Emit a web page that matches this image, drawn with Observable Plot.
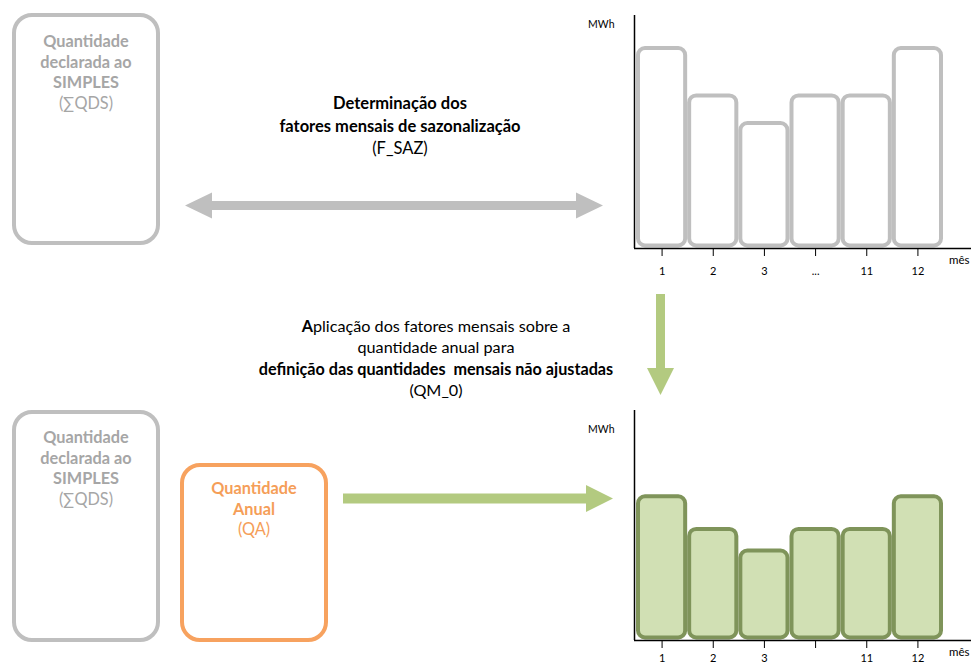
<!DOCTYPE html>
<html lang="pt">
<head>
<meta charset="utf-8">
<script src="https://cdn.jsdelivr.net/npm/d3@7"></script>
<script src="https://cdn.jsdelivr.net/npm/@observablehq/plot@0.6"></script>
<style>
  html, body { margin: 0; padding: 0; background: #fff; }
  body { width: 971px; height: 666px; position: relative; overflow: hidden; font-family: Lato, "Open Sans", sans-serif; }
  .box { position: absolute; box-sizing: border-box; border: 4px solid #bfbfbf; border-radius: 20px; text-align: center; font-size: 16.3px; line-height: 20.7px; color: #a6a6a6; }
  .box b { font-weight: 700; }
  .orange { border-color: #f7a25f; color: #f59e58; }
  .label { position: absolute; transform: translateX(-50%); white-space: pre; text-align: center; color: #000; font-size: 16.5px; }
  #chartTop { position: absolute; left: 580px; top: 0px; }
  #chartBottom { position: absolute; left: 580px; top: 395px; }
  #arrows { position: absolute; left: 0; top: 0; }
</style>
</head>
<body>
<script>
// ---- data ----
const mesesFSAZ = ["1", "2", "3", "...", "11", "12"];
const mesesQM0 = ["1", "2", "3", "", "11", "12"];
const fatoresSazonalizacao = [100, 76, 62, 76, 76, 100];   // relative MWh, top panel
const quantidadesMensais = [71.5, 55, 44, 55, 55, 71.5];    // MWh, QM_0 panel
const unidade = "MWh";
const eixoX = "mês";

const boxTitleSimples = ["Quantidade", "declarada ao", "SIMPLES"];
const boxSubSimples = "(∑QDS)";
const boxTitleAnual = ["Quantidade", "Anual"];
const boxSubAnual = "(QA)";
const passo1 = ["Determinação dos", "fatores mensais de sazonalização"];
const passo1Sub = "(F_SAZ)";
const passo2Regular = ["quantidade anual para"];
const passo2Bold = "definição das quantidades  mensais não ajustadas";
const passo2Sub = "(QM_0)";

// ---- chart factory ----
function monthChart(values, labels, {height, marginBottom, yBase, fill, stroke, unitDy, tickPadding}) {
  const rows = values.map((v, i) => ({i, v, mes: labels[i]}));
  return Plot.plot({
    width: 391,
    height,
    marginLeft: 54,
    marginRight: 0,
    marginTop: 15,
    marginBottom,
    style: {fontFamily: "Lato, 'Open Sans', sans-serif", fontSize: "11px", color: "#000", background: "transparent", overflow: "visible"},
    x: {
      domain: [0, labels.length],
      range: [56, 363],
      ticks: labels.map((d, i) => i + 0.5),
      tickFormat: (t) => labels[Math.floor(t)],
      tickSize: 8,
      tickPadding,
      label: null
    },
    y: {domain: [0, 100], range: [yBase, yBase - 197.5], axis: null},
    marks: [
      Plot.rect(rows, {
        x1: "i", x2: (d) => d.i + 1, y1: 0, y2: "v",
        insetLeft: 2, insetRight: 2, rx: 7,
        fill, stroke, strokeWidth: 4
      }),
      Plot.ruleY([0], {dy: 2.5, stroke: "#000", strokeWidth: 1.5}),
      Plot.ruleX([0], {dx: -2, stroke: "#000", strokeWidth: 1.5}),
      Plot.text([unidade], {frameAnchor: "top-left", dx: -20, dy: unitDy, textAnchor: "end", fontSize: 10.5}),
      Plot.text([eixoX], {frameAnchor: "bottom-right", dx: -2, dy: 15, textAnchor: "end", fontSize: 11.5})
    ]
  });
}

const chartTop = monthChart(fatoresSazonalizacao, mesesFSAZ, {
  height: 290, marginBottom: 42, yBase: 245.5, fill: "#ffffff", stroke: "#bfbfbf", unitDy: 5, tickPadding: 11
});
chartTop.id = "chartTop";
document.body.appendChild(chartTop);

const chartBottom = monthChart(quantidadesMensais, mesesQM0, {
  height: 271, marginBottom: 26, yBase: 242.5, fill: "#d1e0b4", stroke: "#7f945a", unitDy: 15, tickPadding: 6
});
chartBottom.id = "chartBottom";
document.body.appendChild(chartBottom);

// ---- diagram: arrows ----
const ns = "http://www.w3.org/2000/svg";
const svg = document.createElementNS(ns, "svg");
svg.setAttribute("id", "arrows");
svg.setAttribute("width", 971);
svg.setAttribute("height", 666);
const arrowShapes = [
  {fill: "#bfbfbf", pts: "185,205.5 212,192.5 212,201 576,201 576,192.5 603,205.5 576,218.5 576,210 212,210 212,218.5"},
  {fill: "#b3ca80", pts: "343,493.5 586,493.5 586,485 613,498.5 586,512 586,503.5 343,503.5"},
  {fill: "#b3ca80", pts: "656,294 665,294 665,368 674,368 660.5,395 647,368 656,368"}
];
for (const a of arrowShapes) {
  const p = document.createElementNS(ns, "polygon");
  p.setAttribute("points", a.pts);
  p.setAttribute("fill", a.fill);
  svg.appendChild(p);
}
document.body.appendChild(svg);

// ---- diagram: boxes and texts ----
function box(left, topPx, w, h, padTop, titleLines, sub, extraClass) {
  const d = document.createElement("div");
  d.className = "box" + (extraClass ? " " + extraClass : "");
  Object.assign(d.style, {left: left + "px", top: topPx + "px", width: w + "px", height: h + "px", paddingTop: padTop + "px"});
  d.innerHTML = titleLines.map((t) => `<b>${t}</b>`).join("<br>") + "<br>" + sub;
  document.body.appendChild(d);
}
box(12, 13, 148, 232, 14, boxTitleSimples, boxSubSimples);
box(12, 410, 148, 232, 13, boxTitleSimples, boxSubSimples);
box(180, 463, 148, 179, 11, boxTitleAnual, boxSubAnual, "orange");

const t1 = document.createElement("div");
t1.className = "label";
Object.assign(t1.style, {left: "400px", top: "92px", lineHeight: "22.5px"});
t1.innerHTML = passo1.map((t) => `<b>${t}</b>`).join("<br>") + "<br>" + passo1Sub;
document.body.appendChild(t1);

const t2 = document.createElement("div");
t2.className = "label";
Object.assign(t2.style, {left: "436px", top: "315px", lineHeight: "21.3px", fontSize: "16.2px"});
t2.innerHTML = "<b>A</b>plicação dos fatores mensais sobre a<br>" + passo2Regular.join("<br>") +
  "<br><b>" + passo2Bold + "</b><br>" + passo2Sub;
document.body.appendChild(t2);
</script>
</body>
</html>
